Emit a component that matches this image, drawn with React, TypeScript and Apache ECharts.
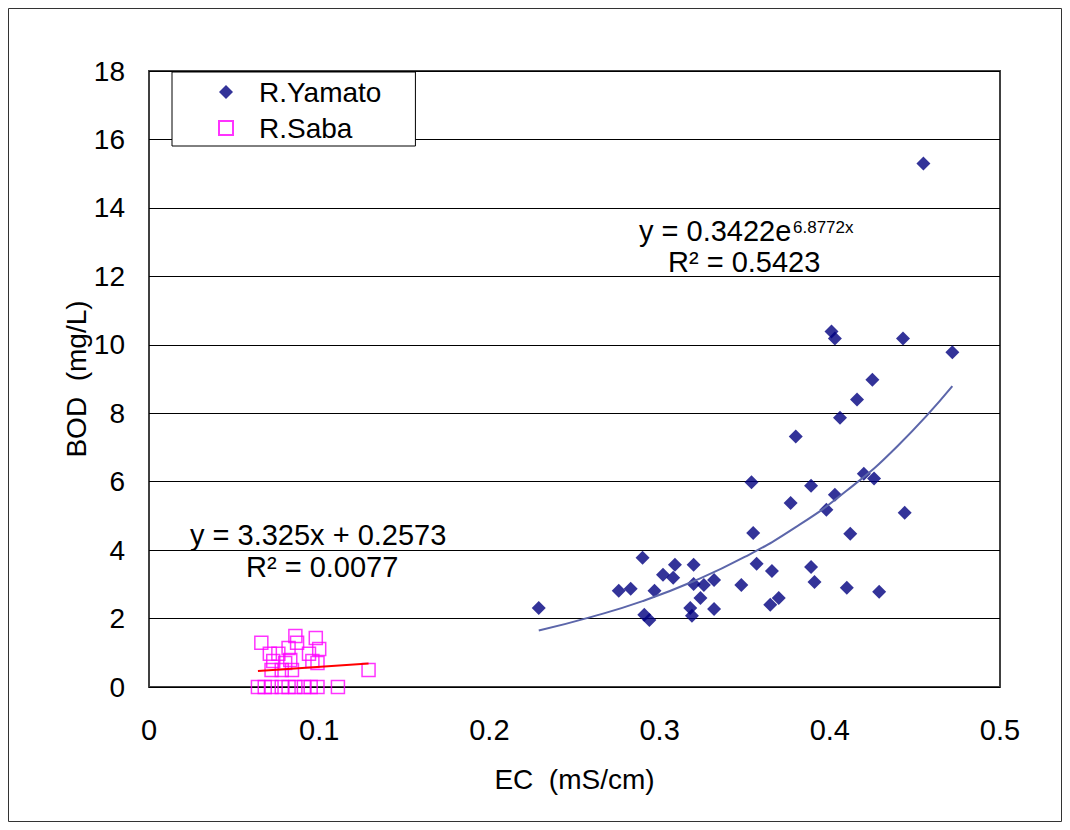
import React, { useEffect, useRef } from "react";
import * as echarts from "echarts";

const yamatoPoints: [number, number][] = [
  [0.229, 2.31], [0.276, 2.81], [0.283, 2.87], [0.290, 3.78], [0.291, 2.11],
  [0.294, 1.96], [0.297, 2.81], [0.302, 3.28], [0.308, 3.19], [0.309, 3.57],
  [0.318, 2.31], [0.319, 2.08], [0.320, 3.57], [0.320, 3.01], [0.324, 2.60],
  [0.326, 2.98], [0.332, 3.13], [0.332, 2.28], [0.348, 2.98], [0.354, 5.98],
  [0.355, 4.50], [0.357, 3.60], [0.366, 3.39], [0.365, 2.40], [0.370, 2.60],
  [0.377, 5.38], [0.380, 7.32], [0.389, 5.88], [0.389, 3.51], [0.391, 3.07],
  [0.398, 5.18], [0.401, 10.39], [0.403, 10.18], [0.403, 5.62], [0.406, 7.87],
  [0.410, 2.90], [0.412, 4.48], [0.416, 8.40], [0.420, 6.23], [0.425, 8.98],
  [0.426, 6.09], [0.429, 2.78], [0.443, 10.18], [0.444, 5.09], [0.455, 15.30],
  [0.472, 9.78],
];

const sabaPoints: [number, number][] = [
  [0.066, 1.29], [0.071, 0.97], [0.086, 1.49], [0.098, 1.43], [0.087, 1.29],
  [0.082, 1.14], [0.100, 1.11], [0.094, 0.97], [0.076, 0.97], [0.073, 0.76],
  [0.083, 0.79], [0.096, 0.76], [0.099, 0.70], [0.080, 0.70], [0.072, 0.50],
  [0.078, 0.50], [0.084, 0.50], [0.129, 0.50], [0.064, 0], [0.068, 0],
  [0.072, 0], [0.078, 0], [0.082, 0], [0.086, 0], [0.091, 0], [0.095, 0],
  [0.099, 0], [0.111, 0],
];

// trendline points
const yamatoTrend: [number, number][] = [
  [0.229, 1.65], [0.26, 2.05], [0.29, 2.51], [0.32, 3.09], [0.35, 3.80],
  [0.38, 4.67], [0.41, 5.74], [0.44, 7.05], [0.472, 8.79],
];
const sabaTrend: [number, number][] = [
  [0.064, 0.47], [0.129, 0.686],
];

const xTicks = { min: 0, max: 0.5, interval: 0.1 };
const yTicks = { min: 0, max: 18, interval: 2 };

const FONT = "'Liberation Sans', Arial, sans-serif";

export default function App() {
  const ref = useRef<HTMLDivElement>(null);
  useEffect(() => {
    if (!ref.current) return;
    const chart = echarts.init(ref.current, undefined, { renderer: "svg" });
    chart.setOption({
      animation: false,
      backgroundColor: "#ffffff",
      textStyle: { fontFamily: FONT },
      grid: {
        left: 141,
        top: 63,
        right: 62,
        bottom: 135,
        show: true,
        borderColor: "#404040",
        borderWidth: 2,
        backgroundColor: "transparent",
      },
      legend: {
        orient: "vertical",
        left: 164,
        top: 64,
        data: [
          { name: "R.Yamato", icon: "diamond" },
          { name: "R.Saba", icon: "rect" },
        ],
        backgroundColor: "#ffffff",
        borderColor: "#000000",
        borderWidth: 1,
        padding: [6, 34, 4, 46],
        itemWidth: 14,
        itemHeight: 14,
        itemGap: 8,
        textStyle: {
          fontSize: 28,
          lineHeight: 28,
          color: "#000",
          fontFamily: FONT,
          padding: [0, 0, 0, 21],
        },
      },
      xAxis: {
        type: "value",
        min: xTicks.min,
        max: xTicks.max,
        interval: xTicks.interval,
        name: "EC\u00a0\u00a0(mS/cm)",
        nameLocation: "middle",
        nameGap: 78,
        nameMoveOverlap: false,
        nameTextStyle: { fontSize: 28, color: "#000", fontFamily: FONT },
        axisLine: { show: false },
        axisTick: { show: false },
        splitLine: { show: false },
        axisLabel: { fontSize: 29, color: "#000", margin: 28, fontFamily: FONT },
      },
      yAxis: {
        type: "value",
        min: yTicks.min,
        max: yTicks.max,
        interval: yTicks.interval,
        name: "BOD\u00a0\u00a0(mg/L)",
        nameLocation: "middle",
        nameGap: 59,
        nameMoveOverlap: false,
        nameTextStyle: { fontSize: 28, color: "#000", fontFamily: FONT },
        axisLine: { show: false },
        axisTick: { show: false },
        splitLine: { show: true, lineStyle: { color: "#000000", width: 1 } },
        axisLabel: { fontSize: 28, color: "#000", margin: 24, fontFamily: FONT },
      },
      series: [
        {
          name: "R.Yamato",
          type: "scatter",
          symbol: "diamond",
          symbolSize: 14,
          data: yamatoPoints,
          itemStyle: { color: "#000080" },
          z: 3,
        },
        {
          name: "R.Saba",
          type: "scatter",
          symbol: "rect",
          symbolSize: 13,
          data: sabaPoints,
          itemStyle: { color: "rgba(255,255,255,0)", borderColor: "#ff00ff", borderWidth: 1.5 },
          z: 3,
        },
        {
          name: "Yamato trend",
          type: "line",
          data: yamatoTrend,
          smooth: true,
          showSymbol: false,
          lineStyle: { color: "#5c66aa", width: 2 },
          z: 4,
        },
        {
          name: "Saba trend",
          type: "line",
          data: sabaTrend,
          showSymbol: false,
          lineStyle: { color: "#ff0000", width: 2 },
          z: 4,
        },
      ],
      graphic: [
        {
          type: "rect",
          shape: { x: 0.5, y: 0.5, width: 1053, height: 813 },
          style: { fill: "none", stroke: "#333333", lineWidth: 1 },
          silent: true,
        },
        {
          type: "text",
          x: 631,
          y: 208,
          style: { text: "y = 0.3422e", fontSize: 29, fill: "#000", fontFamily: FONT },
        },
        {
          type: "text",
          x: 785,
          y: 211,
          style: { text: "6.8772x", fontSize: 17, fill: "#000", fontFamily: FONT },
        },
        {
          type: "text",
          x: 660,
          y: 239,
          style: { text: "R\u00b2 = 0.5423", fontSize: 29, fill: "#000", fontFamily: FONT },
        },
        {
          type: "text",
          x: 182,
          y: 512,
          style: { text: "y = 3.325x + 0.2573", fontSize: 29, fill: "#000", fontFamily: FONT },
        },
        {
          type: "text",
          x: 238,
          y: 544,
          style: { text: "R\u00b2 = 0.0077", fontSize: 29, fill: "#000", fontFamily: FONT },
        },
      ],
    });
    return () => chart.dispose();
  }, []);
  return <div ref={ref} style={{ width: 1054, height: 814 }} />;
}
